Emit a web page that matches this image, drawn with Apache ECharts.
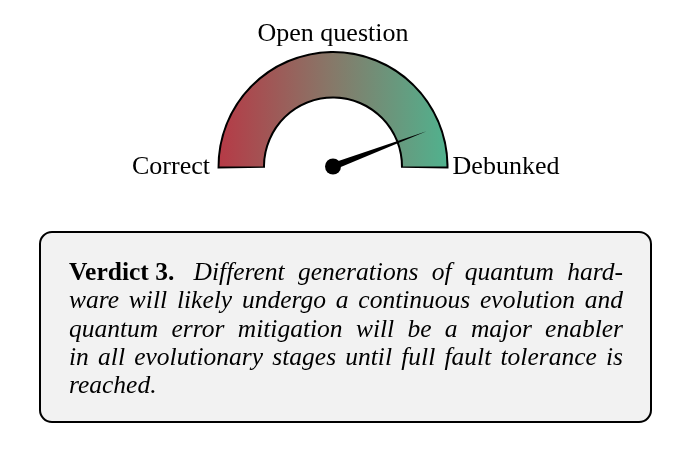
<!DOCTYPE html>
<html><head><meta charset="utf-8">
<script src="https://cdn.jsdelivr.net/npm/echarts@6/dist/echarts.min.js"></script>
<style>html,body{margin:0;padding:0;background:#fff}#c{width:680px;height:457px}</style>
</head><body><div id="c"></div>
<script>
// ---- data ----
const scaleLabels = ['Correct', 'Open question', 'Debunked'];
const scaleMin = 0;
const scaleMax = 1;
const verdictValue = 0.885;
const verdictTitle = 'Verdict 3.';
const verdictLines = [
  'Different generations of quantum hard-',
  'ware will likely undergo a continuous evolution and',
  'quantum error mitigation will be a major enabler',
  'in all evolutionary stages until full fault tolerance is',
  'reached.'
];

// ---- layout ----
const C = [333, 166.5];
const labelOffsets = [[-162, 0.5], [0, -132.5], [173, 0.5]];
const FAM = 'Liberation Serif';
const FS = 25.5;
const X0 = 69, X1 = 623, B0 = 282, LH = 28.3;

const ctx = document.createElement('canvas').getContext('2d');
function measure(text, style, weight) {
  ctx.font = style + ' ' + weight + ' ' + FS + 'px "' + FAM + '"';
  return ctx.measureText(text).width;
}

const graphics = [{
  type: 'rect', z: 0,
  shape: { x: 40, y: 232, width: 611, height: 190, r: 12 },
  style: { fill: '#f2f2f2', stroke: '#000', lineWidth: 2 }
}];

verdictLines.forEach((line, i) => {
  const tokens = [];
  if (i === 0) tokens.push({ t: verdictTitle, s: 'normal', w: 'bold', extra: 6 });
  line.split(' ').forEach(t => tokens.push({ t, s: 'italic', w: 'normal', extra: 0 }));
  const widths = tokens.map(k => measure(k.t, k.s, k.w) + k.extra);
  const sum = widths.reduce((a, b) => a + b, 0);
  const last = i === verdictLines.length - 1;
  const gap = (last || tokens.length < 2) ? measure(' ', 'italic', 'normal') : (X1 - X0 - sum) / (tokens.length - 1);
  let x = X0;
  tokens.forEach((k, j) => {
    graphics.push({
      type: 'text', z: 1, x: x, y: B0 + LH * i - 0.3375 * FS,
      style: {
        text: k.t, fontSize: FS, fontFamily: FAM, fontStyle: k.s, fontWeight: k.w,
        fill: '#000', align: 'left', verticalAlign: 'middle'
      }
    });
    x += widths[j] + gap;
  });
});

const grad = new echarts.graphic.LinearGradient(218, 0, 448, 0, [
  { offset: 0, color: '#b63a46' },
  { offset: 0.5, color: '#867969' },
  { offset: 1, color: '#50b28e' }
], true);

const chart = echarts.init(document.getElementById('c'), null, { renderer: 'canvas' });
chart.setOption({
  animation: false,
  backgroundColor: '#fff',
  graphic: graphics,
  series: [
    {
      type: 'gauge', z: 1, center: C, radius: 115.5, startAngle: 181, endAngle: -1,
      min: scaleMin, max: scaleMax,
      axisLine: { lineStyle: { width: 47.5, color: [[1, '#000']] } },
      axisTick: { show: false }, splitLine: { show: false }, axisLabel: { show: false },
      pointer: { show: false }, anchor: { show: false }, title: { show: false }, detail: { show: false },
      data: []
    },
    {
      type: 'gauge', z: 2, center: C, radius: 113.5, startAngle: 180, endAngle: 0,
      min: scaleMin, max: scaleMax,
      axisLine: { lineStyle: { width: 43.5, color: [[1, grad]] } },
      axisTick: { show: false }, splitLine: { show: false }, axisLabel: { show: false },
      pointer: {
        show: true, icon: 'path://M0,100 L10,100 L5,0 Z', length: 100, width: 7,
        offsetCenter: [0, 0], keepAspect: false, itemStyle: { color: '#000' }
      },
      anchor: { show: true, showAbove: true, size: 16, itemStyle: { color: '#000', borderWidth: 0 } },
      title: { show: false }, detail: { show: false },
      data: [{ value: verdictValue }]
    },
    {
      type: 'gauge', z: 3, center: C, radius: 113.5, startAngle: 180, endAngle: 0,
      min: scaleMin, max: scaleMax,
      axisLine: { show: false }, axisTick: { show: false }, splitLine: { show: false }, axisLabel: { show: false },
      pointer: { show: false }, anchor: { show: false }, detail: { show: false },
      title: { show: true, fontSize: 26, fontFamily: FAM, color: '#000' },
      data: scaleLabels.map((name, i) => ({ value: scaleMin, name: name, title: { offsetCenter: labelOffsets[i] } }))
    }
  ]
});
</script>
</body></html>
